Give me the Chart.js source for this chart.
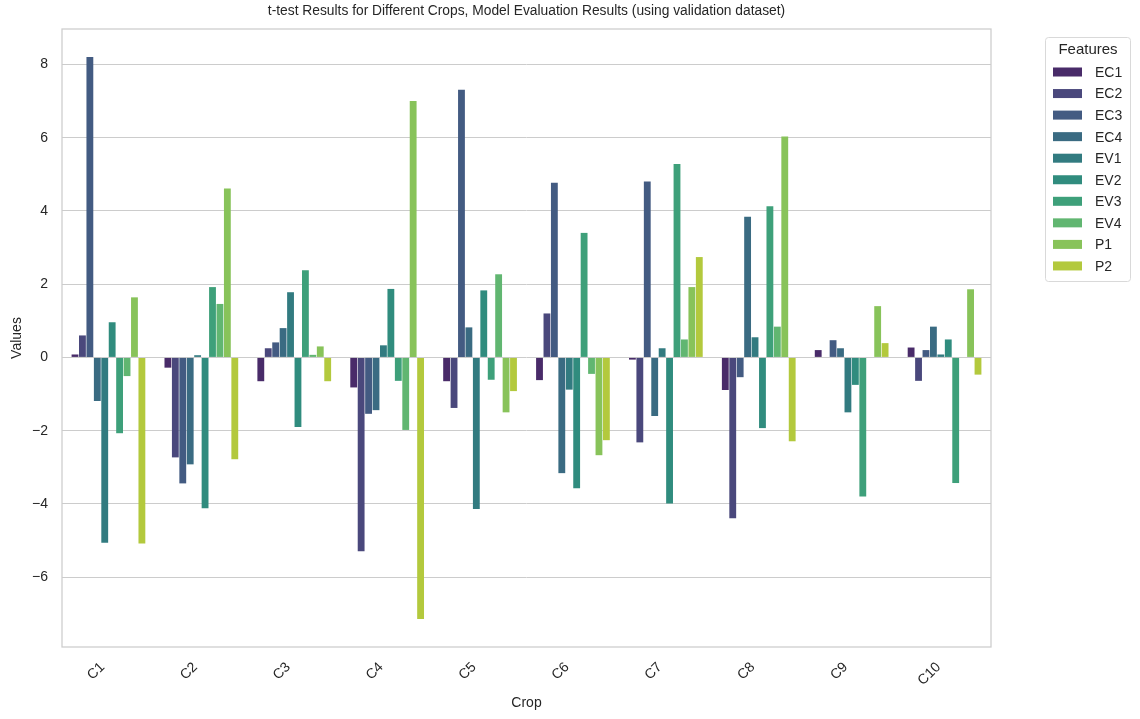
<!DOCTYPE html>
<html>
<head>
<meta charset="utf-8">
<title>t-test Results for Different Crops</title>
<script src="https://cdn.jsdelivr.net/npm/chart.js@4.4.0/dist/chart.umd.min.js"></script>
<style>
  html, body { margin: 0; padding: 0; background: #fff; }
  #wrap { width: 1140px; height: 719px; position: relative; }
  canvas { display: block; }
</style>
</head>
<body>
<div id="wrap"><canvas id="chart" width="1140" height="719"></canvas></div>
<script>
// Data
const crops = ['C1', 'C2', 'C3', 'C4', 'C5', 'C6', 'C7', 'C8', 'C9', 'C10'];
const features = ['EC1', 'EC2', 'EC3', 'EC4', 'EV1', 'EV2', 'EV3', 'EV4', 'P1', 'P2'];

const EC1 = [0.08, -0.28, -0.65, -0.82, -0.65, -0.62, -0.06, -0.89, 0.20, 0.27];
const EC2 = [0.60, -2.73, 0.25, -5.29, -1.38, 1.20, -2.32, -4.39, 0.00, -0.64];
const EC3 = [8.20, -3.44, 0.41, -1.54, 7.31, 4.77, 4.80, -0.54, 0.47, 0.20];
const EC4 = [-1.19, -2.92, 0.80, -1.44, 0.82, -3.16, -1.60, 3.84, 0.25, 0.84];
const EV1 = [-5.06, 0.06, 1.78, 0.33, -4.14, -0.88, 0.25, 0.55, -1.50, 0.08];
const EV2 = [0.96, -4.12, -1.90, 1.87, 1.83, -3.57, -3.99, -1.93, -0.75, 0.49];
const EV3 = [-2.07, 1.92, 2.38, -0.64, -0.61, 3.40, 5.28, 4.13, -3.80, -3.43];
const EV4 = [-0.51, 1.46, 0.07, -1.98, 2.27, -0.45, 0.49, 0.84, 0.00, 0.00];
const P1 = [1.64, 4.61, 0.30, 7.00, -1.50, -2.67, 1.92, 6.03, 1.40, 1.86];
const P2 = [-5.08, -2.78, -0.65, -7.14, -0.92, -2.26, 2.74, -2.29, 0.39, -0.47];

const yTicks = [-6, -4, -2, 0, 2, 4, 6, 8];

const series = [EC1, EC2, EC3, EC4, EV1, EV2, EV3, EV4, P1, P2];

const titleText = 't-test Results for Different Crops, Model Evaluation Results (using validation dataset)';

// viridis samples, then desaturated like seaborn (saturation .75)
const viridis = ['#482173', '#423f85', '#38588c', '#2e6f8e', '#25868d',
                 '#219b88', '#2eb07d', '#53c468', '#86d449', '#c3e026'];

function desat(hex, prop) {
    let r = parseInt(hex.slice(1, 3), 16) / 255;
    let g = parseInt(hex.slice(3, 5), 16) / 255;
    let b = parseInt(hex.slice(5, 7), 16) / 255;
    const mx = Math.max(r, g, b), mn = Math.min(r, g, b);
    const l = (mx + mn) / 2;
    let s = 0, h = 0;
    if (mx !== mn) {
        const d = mx - mn;
        s = l > 0.5 ? d / (2 - mx - mn) : d / (mx + mn);
        if (mx === r) h = (g - b) / d + (g < b ? 6 : 0);
        else if (mx === g) h = (b - r) / d + 2;
        else h = (r - g) / d + 4;
        h /= 6;
    }
    s *= prop;
    const q = l < 0.5 ? l * (1 + s) : l + s - l * s;
    const p = 2 * l - q;
    const f = t => {
        if (t < 0) t += 1;
        if (t > 1) t -= 1;
        if (t < 1 / 6) return p + (q - p) * 6 * t;
        if (t < 1 / 2) return q;
        if (t < 2 / 3) return p + (q - p) * (2 / 3 - t) * 6;
        return p;
    };
    const to = v => Math.round(v * 255);
    return `rgb(${to(f(h + 1 / 3))}, ${to(f(h))}, ${to(f(h - 1 / 3))})`;
}
const colors = viridis.map(c => desat(c, 0.75));

// y limits like matplotlib autoscale (5% margin)
const all = series.flat();
const dMin = Math.min(...all), dMax = Math.max(...all);
const margin = (dMax - dMin) * 0.05;

const FONT = "'Liberation Sans', Arial, sans-serif";
const GRID = '#cccccc';
const TEXT = '#262626';

// Title over the axes, frame, legend
const decorPlugin = {
    id: 'sbDecor',
    afterDraw(chart) {
        const ctx = chart.ctx;
        const a = chart.chartArea;
        ctx.save();
        // axes title
        ctx.fillStyle = TEXT;
        ctx.font = `13.8px ${FONT}`;
        ctx.textAlign = 'center';
        ctx.textBaseline = 'middle';
        ctx.fillText(titleText, (a.left + a.right) / 2, 11);

        // axes frame
        ctx.strokeStyle = GRID;
        ctx.lineWidth = 1.25;
        ctx.strokeRect(a.left, a.top, a.right - a.left, a.bottom - a.top);

        // legend box
        const bx = 1045.5, by = 37.5, bw = 85, bh = 244;
        ctx.fillStyle = 'rgba(255,255,255,0.8)';
        ctx.strokeStyle = '#d9d9d9';
        ctx.lineWidth = 1;
        ctx.beginPath();
        ctx.roundRect(bx, by, bw, bh, 3);
        ctx.fill();
        ctx.stroke();

        ctx.fillStyle = TEXT;
        ctx.font = `15px ${FONT}`;
        ctx.textAlign = 'center';
        ctx.fillText('Features', bx + bw / 2, 50);

        ctx.font = `14px ${FONT}`;
        ctx.textAlign = 'left';
        features.forEach((f, i) => {
            const y = 72.5 + i * 21.55;
            ctx.fillStyle = colors[i];
            ctx.fillRect(1053, y - 5, 29, 9);
            ctx.fillStyle = TEXT;
            ctx.fillText(f, 1095, y + 0.5);
        });
        ctx.restore();
    }
};

const ctx = document.getElementById('chart').getContext('2d');
const chart = new Chart(ctx, {
    type: 'bar',
    data: {
        labels: crops,
        datasets: features.map((f, i) => ({
            label: f,
            data: series[i],
            backgroundColor: colors[i],
            borderWidth: 0,
            categoryPercentage: 0.8,
            barPercentage: 0.92
        }))
    },
    options: {
        responsive: false,
        animation: false,
        devicePixelRatio: 1,
        layout: { padding: { left: 0, top: 29, right: 149, bottom: 0 } },
        plugins: {
            legend: { display: false },
            tooltip: { enabled: false },
            title: { display: false }
        },
        scales: {
            x: {
                grid: { display: false, drawTicks: false },
                border: { display: false },
                ticks: {
                    color: TEXT,
                    font: { family: FONT, size: 14 },
                    minRotation: 45,
                    maxRotation: 45,
                    autoSkip: false,
                    labelOffset: -6,
                    padding: 12
                },
                title: {
                    display: true,
                    text: 'Crop',
                    color: TEXT,
                    font: { family: FONT, size: 14 },
                    padding: { top: 0, bottom: 7 }
                },
                afterFit(scale) { scale.height = 72; }
            },
            y: {
                min: dMin - margin,
                max: dMax + margin,
                grid: { color: GRID, lineWidth: 1, drawTicks: false },
                border: { display: false },
                afterBuildTicks(scale) { scale.ticks = yTicks.map(v => ({ value: v })); },
                ticks: {
                    color: TEXT,
                    font: { family: FONT, size: 14 },
                    padding: 14,
                    callback: v => String(v).replace('-', '\u2212')
                },
                title: {
                    display: true,
                    text: 'Values',
                    color: TEXT,
                    font: { family: FONT, size: 14 },
                    padding: { top: 9, bottom: 0 }
                },
                afterFit(scale) { scale.width = 62; }
            }
        }
    },
    plugins: [decorPlugin]
});
</script>
</body>
</html>
